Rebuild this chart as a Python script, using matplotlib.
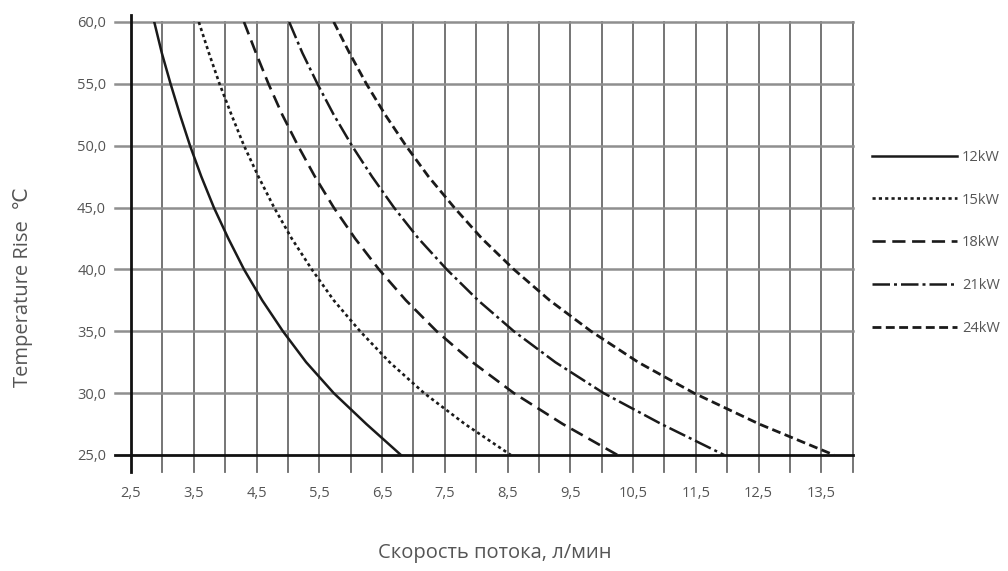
import numpy as np
import matplotlib
matplotlib.use("Agg")
from matplotlib import pyplot as plt

temps = [60, 57.5, 55, 52.5, 50, 47.5, 45, 42.5, 40, 37.5, 35, 32.5, 30, 27.5, 25]

# flow (l/min) for each power rating
flow_12 = [2.87, 2.99, 3.13, 3.28, 3.44, 3.62, 3.82, 4.05, 4.30, 4.59, 4.92, 5.29, 5.73, 6.25, 6.80]
flow_15 = [3.58, 3.74, 3.91, 4.10, 4.30, 4.53, 4.78, 5.06, 5.38, 5.73, 6.15, 6.62, 7.17, 7.82, 8.55]
flow_18 = [4.30, 4.49, 4.69, 4.91, 5.16, 5.43, 5.73, 6.07, 6.45, 6.88, 7.37, 7.94, 8.60, 9.38, 10.25]
flow_21 = [5.02, 5.23, 5.47, 5.73, 6.02, 6.34, 6.69, 7.08, 7.53, 8.03, 8.60, 9.26, 10.03, 10.95, 11.95]
flow_24 = [5.73, 5.98, 6.25, 6.55, 6.88, 7.24, 7.65, 8.09, 8.60, 9.17, 9.83, 10.58, 11.47, 12.51, 13.70]

labels = ["12kW", "15kW", "18kW", "21kW", "24kW"]
xticks = [2.5, 3.5, 4.5, 5.5, 6.5, 7.5, 8.5, 9.5, 10.5, 11.5, 12.5, 13.5]
yticks = [25, 30, 35, 40, 45, 50, 55, 60]

plt.rcParams['font.family'] = ['Open Sans', 'DejaVu Sans']
txt = '#555555'

fig = plt.figure(figsize=(10.08, 5.71), dpi=100)
ax = fig.add_axes([0.130, 0.2032, 0.716, 0.7583])
ax.set_xlim(2.5, 14.0)
ax.set_ylim(25, 60)

# grid: vertical every 0.5, stretched below the x axis as ticks
for xv in np.arange(3.0, 14.01, 0.5):
    ax.plot([xv, xv], [23.6, 60], color='#6a6a6a', lw=1.3, clip_on=False, zorder=1)
for yv in yticks[1:]:
    ax.plot([2.25, 14.0], [yv, yv], color='#8f8f8f', lw=1.8, clip_on=False, zorder=1)
# axes lines
ax.plot([2.5, 2.5], [23.6, 60.55], color='#111111', lw=2.0, clip_on=False, zorder=2)
ax.plot([2.25, 14.0], [25, 25], color='#111111', lw=2.0, clip_on=False, zorder=2)

for s in ax.spines.values():
    s.set_visible(False)

ax.set_xticks(xticks)
ax.set_xticklabels([("%.1f" % v).replace('.', ',') for v in xticks])
ax.set_yticks(yticks)
ax.set_yticklabels([("%.1f" % v).replace('.', ',') for v in yticks])
ax.tick_params(length=0, labelsize=10.5, labelcolor=txt)
ax.tick_params(axis='x', pad=22)
ax.tick_params(axis='y', pad=18)

styles = [
    dict(ls='-', lw=1.8),
    dict(ls=(0, (1.2, 1.2)), lw=1.9),
    dict(ls=(0, (5, 2.5)), lw=1.9),
    dict(ls=(0, (7, 1.6, 1.2, 1.6)), lw=1.8),
    dict(ls=(0, (3.2, 1.6)), lw=2.0),
]
for f, lab, st in zip([flow_12, flow_15, flow_18, flow_21, flow_24], labels, styles):
    ax.plot(f, temps, color='#1a1a1a', label=lab, zorder=3, **st)

ax.legend(loc='upper left', bbox_to_anchor=(1.009, 0.735), frameon=False,
          handlelength=5.8, handletextpad=0.34, labelspacing=1.9,
          fontsize=10.5, labelcolor=txt)

fig.text(0.023, 0.497, "Temperature Rise  \u2103", rotation=90, ha='center',
         va='center', fontsize=14.5, color=txt)
fig.text(0.491, 0.031, "Скорость потока, л/мин", ha='center', va='center',
         fontsize=14.5, color=txt)

fig.savefig("out.png", dpi=100)
